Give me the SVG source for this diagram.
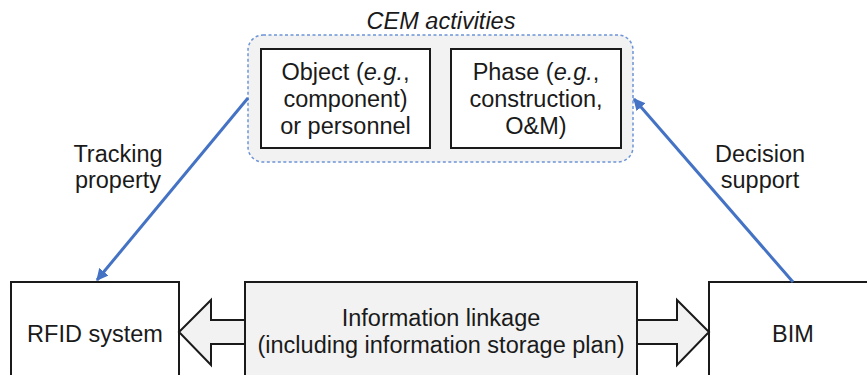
<svg xmlns="http://www.w3.org/2000/svg" width="867" height="375" viewBox="0 0 867 375">
<defs>
<marker id="ah" viewBox="0 0 10 10" refX="9" refY="5" markerWidth="4" markerHeight="4" orient="auto-start-reverse" markerUnits="strokeWidth">
<path d="M0,0 L10,5 L0,10 Z" fill="#4472c4"/>
</marker>
<style>
text{font-family:"Liberation Sans",Arial,sans-serif;font-size:23.5px;fill:#1a1a1a;text-anchor:middle}
.box{fill:#ffffff;stroke:#1a1a1a;stroke-width:2}
.gbox{fill:#f2f2f2;stroke:#1a1a1a;stroke-width:2}
.blue{fill:none;stroke:#4472c4;stroke-width:3}
</style>
</defs>
<rect width="867" height="375" fill="#ffffff"/>
<g id="cem">
<rect x="248" y="35" width="385" height="127" rx="15" ry="15" fill="#f2f2f2" stroke="#6d94d8" stroke-width="1.5" stroke-dasharray="3,2.5"/>
<text x="441" y="29" font-style="italic">CEM activities</text>
</g>
<g id="object">
<rect class="box" x="261" y="49" width="169" height="99"/>
<text x="345.5" y="80">Object (<tspan font-style="italic">e.g.</tspan>,</text>
<text x="345.5" y="107">component)</text>
<text x="345.5" y="134">or personnel</text>
</g>
<g id="phase">
<rect class="box" x="451" y="49" width="170" height="99"/>
<text x="536" y="80">Phase (<tspan font-style="italic">e.g.</tspan>,</text>
<text x="536" y="107">construction,</text>
<text x="536" y="134">O&amp;M)</text>
</g>
<g id="rfid">
<rect class="box" x="11" y="282" width="168" height="110"/>
<text x="95" y="342">RFID system</text>
</g>
<g id="bim">
<rect class="box" x="709" y="282" width="170" height="110"/>
<text x="793" y="342">BIM</text>
</g>
<g id="linkage">
<path class="gbox" d="M245,320 L211,320 L211,300 L179,332 L211,365 L211,344 L245,344 Z"/>
<path class="gbox" d="M637,320 L677,320 L677,300 L709,332 L677,365 L677,344 L637,344 Z"/>
<rect class="gbox" x="245" y="282" width="392" height="110"/>
<text x="441" y="326">Information linkage</text>
<text x="441" y="353">(including information storage plan)</text>
</g>
<g id="connectors">
<line class="blue" x1="248" y1="98" x2="97" y2="280" marker-end="url(#ah)"/>
<line class="blue" x1="793" y1="282" x2="634" y2="99" marker-end="url(#ah)"/>
</g>
<g id="labels">
<text x="118" y="162">Tracking</text>
<text x="118" y="188">property</text>
<text x="760" y="162">Decision</text>
<text x="760" y="188">support</text>
</g>
</svg>
